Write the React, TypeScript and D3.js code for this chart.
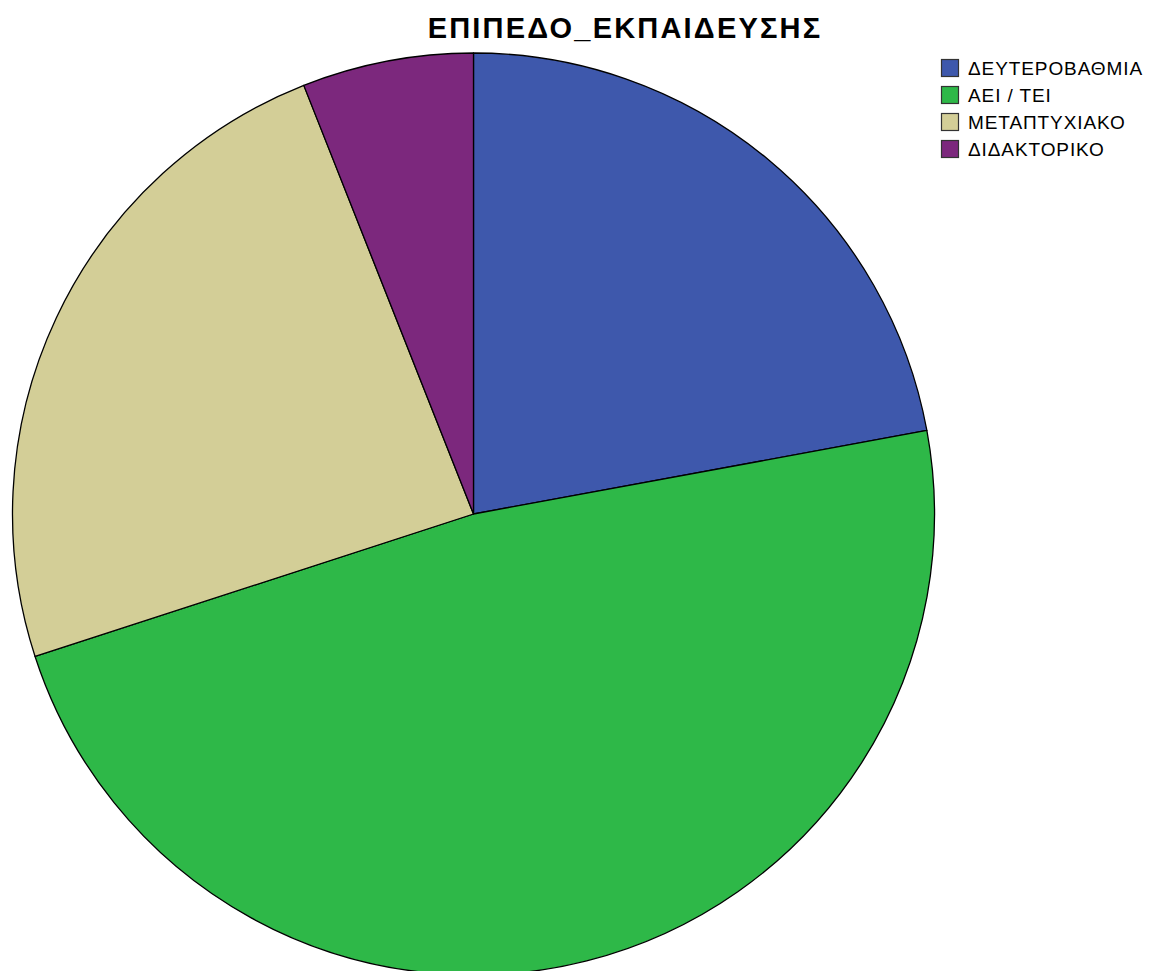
import React from "react";
import * as d3 from "d3";

const categories = ["ΔΕΥΤΕΡΟΒΑΘΜΙΑ", "ΑΕΙ / ΤΕΙ", "ΜΕΤΑΠΤΥΧΙΑΚΟ", "ΔΙΔΑΚΤΟΡΙΚΟ"];
const percents = [22.1, 47.9, 24.0, 6.0];
const colors = ["#3E58AC", "#2EB848", "#D3CE97", "#7C287D"];
const title = "ΕΠΙΠΕΔΟ_ΕΚΠΑΙΔΕΥΣΗΣ";

export default function App() {
  const W = 1156, H = 971;
  const cx = 473.5, cy = 514, r = 461;
  const pie = d3.pie<number>().sort(null).value((d) => d);
  const arcs = pie(percents);
  const arc = d3.arc<d3.PieArcDatum<number>>().innerRadius(0).outerRadius(r);
  return (
    <svg width={W} height={H} style={{ position: "absolute", left: 0, top: 0, background: "#fff" }}
      fontFamily="'Liberation Sans', Arial, sans-serif">
      <rect width={W} height={H} fill="#fff" />
      <text x={625} y={38} textAnchor="middle" fontSize={29} fontWeight="bold" letterSpacing={2.2} fill="#000">{title}</text>
      <g transform={`translate(${cx},${cy})`}>
        {arcs.map((a, i) => (
          <path key={i} d={arc(a) || ""} fill={colors[i]} stroke="#000" strokeWidth={1.3} strokeLinejoin="round" />
        ))}
      </g>
      <g>
        {categories.map((c, i) => (
          <g key={c} transform={`translate(941,${59 + i * 27})`}>
            <rect x={0.5} y={0.5} width={17} height={17} fill={colors[i]} stroke="#333" strokeWidth={1.2} />
            <text x={27} y={16} fontSize={19} letterSpacing={0.9} fill="#000">{c}</text>
          </g>
        ))}
      </g>
    </svg>
  );
}
